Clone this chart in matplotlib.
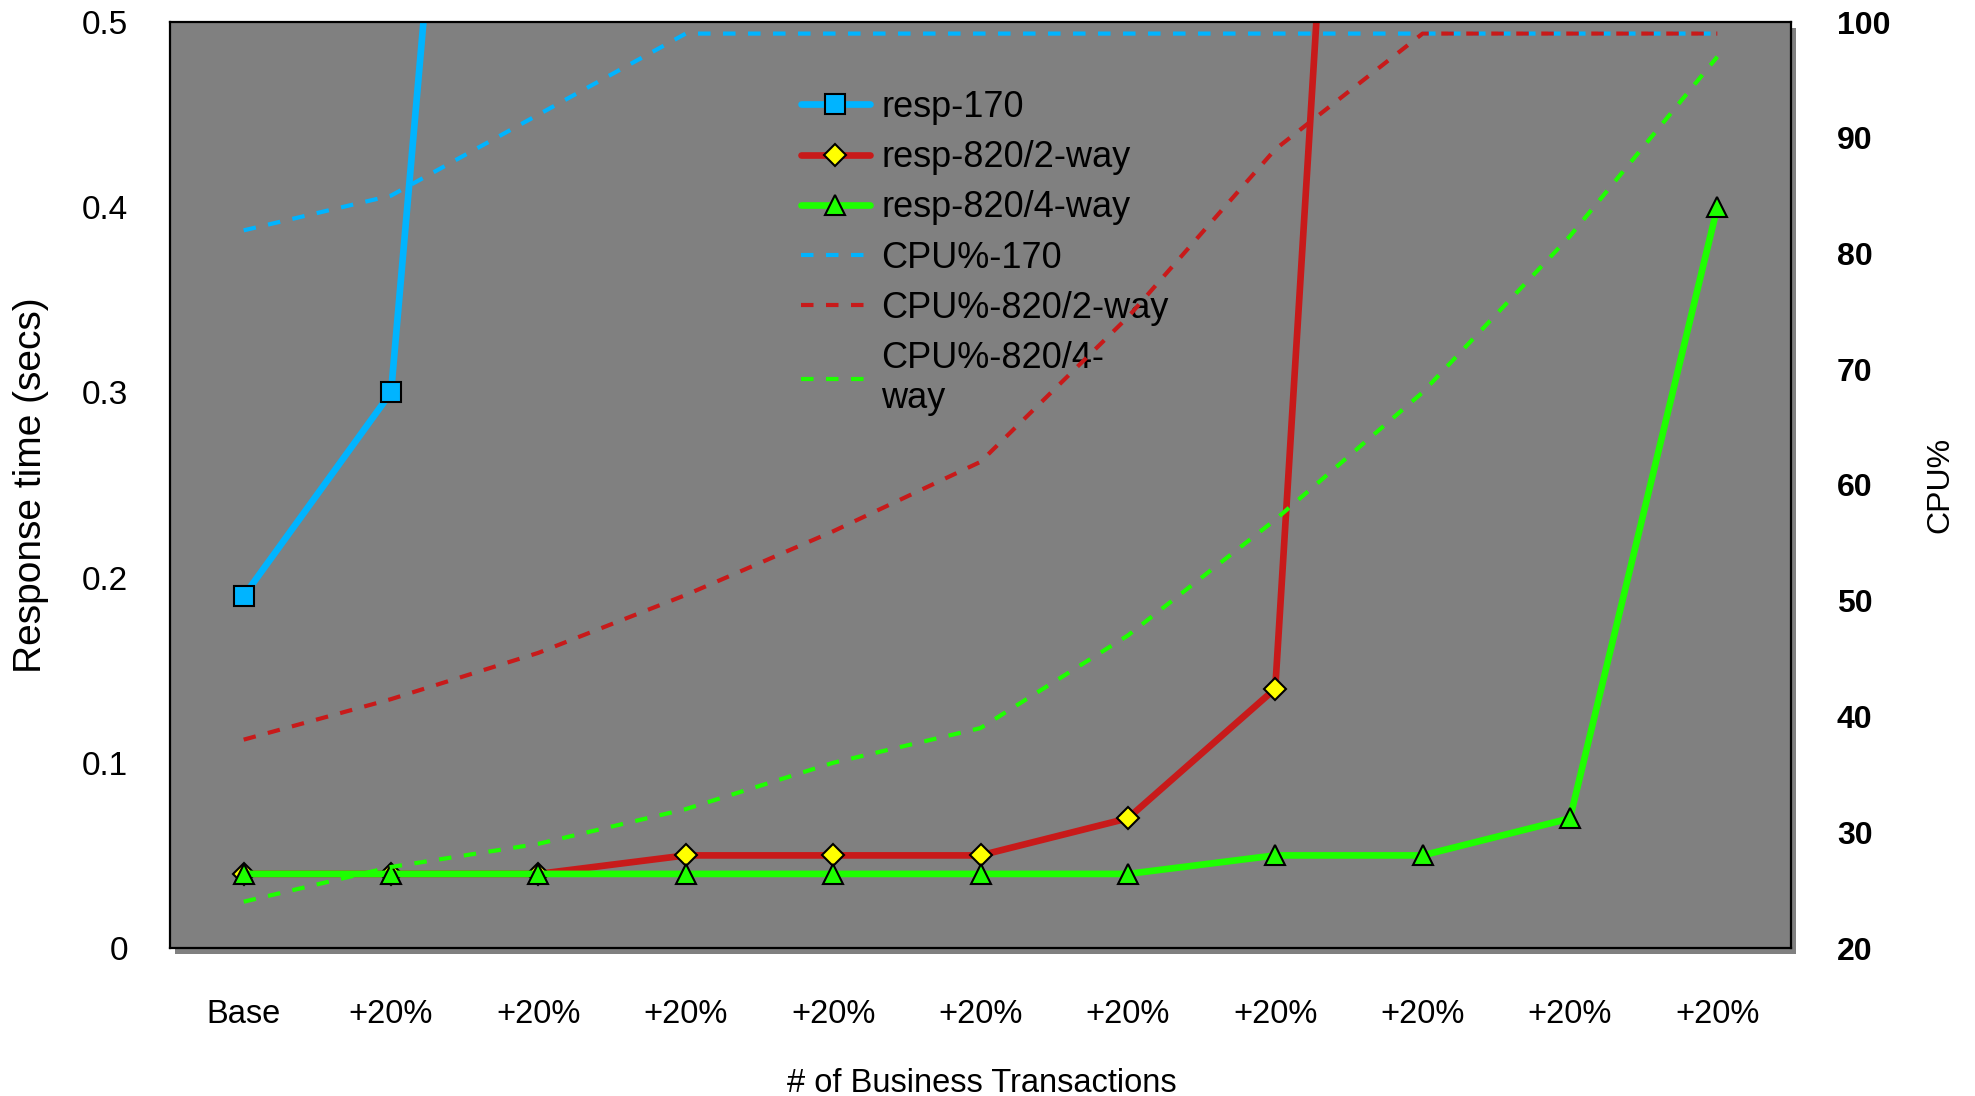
import numpy as np
import matplotlib.pyplot as plt
from matplotlib.patches import Rectangle

plt.rcParams['font.family'] = ['Liberation Sans', 'DejaVu Sans']

# ---------- data ----------
categories = ["Base"] + ["+20%"] * 10

resp_170 = [0.19, 0.30, 1.21] + [np.nan] * 8
resp_820_2way = [0.04, 0.04, 0.04, 0.05, 0.05, 0.05, 0.07, 0.14, 1.43, np.nan, np.nan]
resp_820_4way = [0.04, 0.04, 0.04, 0.04, 0.04, 0.04, 0.04, 0.05, 0.05, 0.07, 0.40]

cpu_170 = [82, 85, 92, 99, 99, 99, 99, 99, 99, 99, 99]
cpu_820_2way = [38, 41.5, 45.5, 50.5, 56, 62, 74.5, 89, 99, 99, 99]
cpu_820_4way = [24, 27, 29, 32, 36, 39, 47, 57, 68, 81.5, 97]

BLUE = '#00B4FF'
RED = '#C81A1A'
GREEN = '#1EFF00'
BG = '#808080'

x = np.arange(len(categories))

W, H = 1975, 1096
fig = plt.figure(figsize=(W / 100, H / 100), dpi=100)
L, R, T, B = 170, 1791, 22, 948
ax = fig.add_axes([L / W, 1 - B / H, (R - L) / W, (B - T) / H])

# drop shadow of the plot area
fig.patches.append(Rectangle(((L + 5) / W, 1 - (B + 6) / H), (R - L) / W, (B - T) / H,
                             transform=fig.transFigure, facecolor=BG, edgecolor='none', zorder=0))

ax.set_facecolor(BG)
for s in ax.spines.values():
    s.set_color('black')
    s.set_linewidth(1.6)

ax2 = ax.twinx()
ax.set_zorder(1)
ax2.set_zorder(2)
ax2.patch.set_visible(False)
for s in ax2.spines.values():
    s.set_visible(False)

# response time lines
l1, = ax.plot(x, resp_170, color=BLUE, lw=4.8, marker='s', ms=14.5, mfc=BLUE, mec='black', mew=1.5,
              label='resp-170', solid_capstyle='round')
l2, = ax.plot(x, resp_820_2way, color=RED, lw=4.8, marker='D', ms=11, mfc='#FFFF00', mec='black', mew=1.5,
              label='resp-820/2-way', solid_capstyle='round')
l3, = ax.plot(x, resp_820_4way, color=GREEN, lw=4.8, marker='^', ms=14.5, mfc=GREEN, mec='black', mew=1.5,
              label='resp-820/4-way', solid_capstyle='round')

# CPU lines
dash = (0, (3, 3))
l4, = ax2.plot(x, cpu_170, color=BLUE, lw=3, ls=dash, label='CPU%-170')
l5, = ax2.plot(x, cpu_820_2way, color=RED, lw=3, ls=dash, label='CPU%-820/2-way')
l6, = ax2.plot(x, cpu_820_4way, color=GREEN, lw=3, ls=dash, label='CPU%-820/4-\nway')

ax.set_xlim(-0.5, len(categories) - 0.5)
ax.set_ylim(0, 0.5)
ax.set_yticks([0, 0.1, 0.2, 0.3, 0.4, 0.5])
ax.set_yticklabels(['0', '0.1', '0.2', '0.3', '0.4', '0.5'])
ax2.set_ylim(20, 100)
ax2.set_yticks(range(20, 101, 10))

ax.set_xticks(x)
ax.set_xticklabels(categories)
ax.tick_params(axis='x', length=0, pad=37, labelsize=23.5)
ax.tick_params(axis='y', length=0, pad=30, labelsize=24)
ax2.tick_params(axis='y', length=0, pad=33, labelsize=23)
for t in ax2.get_yticklabels():
    t.set_fontweight('bold')

ax.set_ylabel('Response time (secs)', fontsize=28, va='center')
ax.yaxis.set_label_coords(-0.0858, 0.5)
ax.set_xlabel('# of Business Transactions', fontsize=23.5, va='center')
ax.xaxis.set_label_coords(0.501, -0.1468)
ax2.set_ylabel('CPU%', fontsize=23, va='center', rotation=90)
ax2.yaxis.set_label_coords(1.092, 0.5)

ax.legend(handles=[l1, l2, l3, l4, l5, l6], loc='upper left',
          bbox_to_anchor=(801 / W, 1 - 90 / H), bbox_transform=fig.transFigure,
          frameon=False, fontsize=26, handlelength=1.9, handletextpad=0.33,
          labelspacing=0.42, borderpad=0, borderaxespad=0)

fig.savefig('out.png', dpi=100)
